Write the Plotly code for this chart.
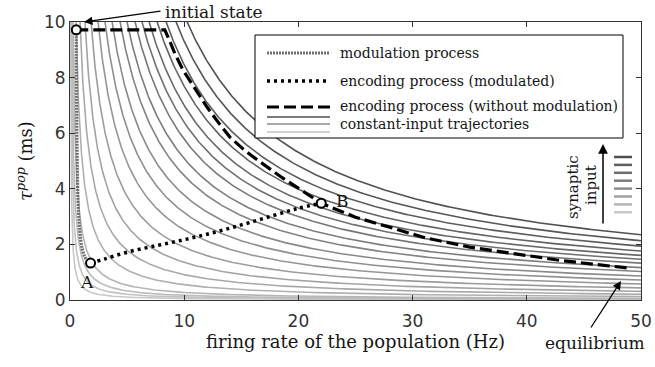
import numpy as np
import plotly.graph_objects as go

# ---- data ----
# firing rate (Hz) at which each constant-input trajectory meets tau = 10 ms (light -> dark)
top_crossing_rates = [0.05, 0.1, 0.16, 0.26, 0.53, 0.88, 1.31, 1.84, 2.45, 3.06, 3.68, 4.38,
                      4.99, 5.69, 6.30, 6.92, 7.62, 8.41, 9.28, 10.25]
# flattening of the trajectories at high rate (tau at 50 Hz of outermost curve ~2.35 ms)
flattening = 0.0038

mod_r   = [0.55, 0.55, 0.57, 0.60, 0.64, 0.70, 0.80, 0.94, 1.10, 1.30, 1.55, 1.80]
mod_tau = [9.72, 8.80, 7.60, 6.20, 4.80, 3.60, 2.80, 2.16, 1.80, 1.55, 1.40, 1.33]

encm_r   = [1.8, 3.0, 5.0, 7.5, 10.0, 12.5, 15.0, 17.5, 20.0, 22.0]
encm_tau = [1.33, 1.47, 1.72, 1.95, 2.17, 2.42, 2.70, 3.00, 3.30, 3.48]

enc_r   = [0.55, 8.3, 8.7, 9.2, 9.9, 11.0, 12.0, 13.0, 14.0, 15.2, 16.4, 18.4, 20.5, 22.0,
           25.0, 28.0, 31.0, 35.0, 40.0, 43.0, 46.0, 48.9]
enc_tau = [9.72, 9.72, 9.35, 8.85, 8.27, 7.55, 6.94, 6.38, 5.86, 5.42, 5.04, 4.45, 3.90, 3.48,
           2.98, 2.60, 2.25, 1.90, 1.60, 1.42, 1.28, 1.15]

state_r   = [0.55, 1.8, 22.0]
state_tau = [9.72, 1.33, 3.48]

x_ticks = [0, 10, 20, 30, 40, 50]
y_ticks = [0, 2, 4, 6, 8, 10]

SERIF = "DejaVu Serif"
SANS = "DejaVu Sans"
TXT = "#151515"

def gray(t):
    v = int(round(200 - t * (200 - 80)))
    return f"rgb({v},{v},{v})"

fig = go.Figure()

n = len(top_crossing_rates)
for i, r0 in enumerate(top_crossing_rates):
    r = np.geomspace(r0 * 0.98, 50, 300)
    a = 10.0 / (1.0 / r0 + flattening)
    tau = a * (1.0 / r + flattening)
    fig.add_trace(go.Scatter(x=r, y=tau, mode="lines",
                             line=dict(color=gray(i / (n - 1)), width=1.6),
                             hoverinfo="skip", showlegend=False))

fig.add_trace(go.Scatter(x=mod_r, y=mod_tau, mode="lines", line_shape="spline",
                         line=dict(color="#6e6e6e", width=3.2, dash="2px,1px"), showlegend=False))
fig.add_trace(go.Scatter(x=enc_r, y=enc_tau, mode="lines",
                         line=dict(color="black", width=3.2, dash="12px,5px"), showlegend=False))
fig.add_trace(go.Scatter(x=encm_r, y=encm_tau, mode="lines", line_shape="spline",
                         line=dict(color="black", width=3.5, dash="3px,4px"), showlegend=False))
fig.add_trace(go.Scatter(x=state_r, y=state_tau, mode="markers",
                         marker=dict(size=9, color="white", line=dict(color="black", width=2)),
                         showlegend=False))

# ---- pixel helpers ----
def px2x(px):
    return (px - 70) / 571 * 50

def py2y(py):
    return (300 - py) / 278 * 10

def px2p(px):
    return (px - 70) / 571

def py2p(py):
    return (300 - py) / 278

shapes = [dict(type="rect", xref="x", yref="y", x0=px2x(255), x1=px2x(623), y0=py2y(138), y1=py2y(35),
               line=dict(color="black", width=1), fillcolor="white", layer="above")]
lx0, lx1 = px2x(267), px2x(330)
rows = [(53, "#6e6e6e", "2px,1px", 3.2), (81, "black", "3px,4px", 3.5), (107, "black", "12px,5px", 3.2)]
for py, col, dash, w in rows:
    shapes.append(dict(type="line", xref="x", yref="y", x0=lx0, x1=lx1, y0=py2y(py), y1=py2y(py),
                       line=dict(color=col, width=w, dash=dash), layer="above"))
for py, col in [(117, "rgb(80,80,80)"), (124, "rgb(140,140,140)"), (132, "rgb(195,195,195)")]:
    shapes.append(dict(type="line", xref="x", yref="y", x0=lx0, x1=lx1, y0=py2y(py), y1=py2y(py),
                       line=dict(color=col, width=1.6), layer="above"))

# synaptic input inset dashes
inset_grays = [80, 95, 110, 125, 140, 160, 180, 200]
for k, v in enumerate(inset_grays):
    py = 157 + k * 7.9
    shapes.append(dict(type="line", xref="x", yref="y", x0=px2x(614), x1=px2x(632), y0=py2y(py), y1=py2y(py),
                       line=dict(color=f"rgb({v},{v},{v})", width=2.5), layer="above"))

legend_texts = [(53, "modulation process"), (81, "encoding process (modulated)"),
                (106, "encoding process (without modulation)"), (124, "constant-input trajectories")]
annotations = []
for py, txt in legend_texts:
    annotations.append(dict(x=px2x(338), y=py2y(py), xref="x", yref="y", text=txt, showarrow=False,
                            xanchor="left", yanchor="middle", font=dict(family=SERIF, size=14, color=TXT)))

# labels A, B
annotations.append(dict(x=px2x(87), y=py2y(282), xref="x", yref="y", text="A", showarrow=False,
                        xanchor="center", yanchor="middle", font=dict(family=SERIF, size=17, color=TXT)))
annotations.append(dict(x=px2x(342), y=py2y(201), xref="x", yref="y", text="B", showarrow=False,
                        xanchor="center", yanchor="middle", font=dict(family=SERIF, size=17, color=TXT)))
# initial state
annotations.append(dict(x=px2p(163), y=py2p(12), xref="paper", yref="paper", text="initial state",
                        showarrow=False, xanchor="left", yanchor="middle",
                        font=dict(family=SERIF, size=17, color=TXT)))
annotations.append(dict(x=px2x(84), y=py2y(22), xref="x", yref="y", ax=162 - 84, ay=11 - 22,
                        text="", showarrow=True, arrowhead=2, arrowsize=1.3,
                        arrowwidth=1.3, arrowcolor="black"))
# equilibrium
annotations.append(dict(x=px2p(595), y=py2p(343), xref="paper", yref="paper", text="equilibrium",
                        showarrow=False, xanchor="center", yanchor="middle",
                        font=dict(family=SERIF, size=17, color=TXT)))
annotations.append(dict(x=px2x(621), y=py2y(281), xref="x", yref="y", ax=590 - 621, ay=329 - 281,
                        text="", showarrow=True, arrowhead=2, arrowsize=1.3,
                        arrowwidth=1.3, arrowcolor="black"))
# synaptic input
annotations.append(dict(x=px2x(603), y=py2y(144), xref="x", yref="y", ax=0, ay=225 - 144,
                        text="", showarrow=True, arrowhead=2, arrowsize=1.3,
                        arrowwidth=1.5, arrowcolor="black"))
annotations.append(dict(x=px2x(573), y=py2y(187), xref="x", yref="y", text="synaptic", showarrow=False,
                        xanchor="center", yanchor="middle",
                        textangle=-90, font=dict(family=SERIF, size=15, color=TXT)))
annotations.append(dict(x=px2x(591), y=py2y(185), xref="x", yref="y", text="input", showarrow=False,
                        xanchor="center", yanchor="middle",
                        textangle=-90, font=dict(family=SERIF, size=15, color=TXT)))

fig.update_layout(
    width=655, height=367,
    margin=dict(l=70, r=14, t=22, b=67, autoexpand=False),
    paper_bgcolor="white", plot_bgcolor="white",
    shapes=shapes, annotations=annotations,
    xaxis=dict(range=[0, 50], tickvals=x_ticks, ticks="inside", ticklen=5, tickcolor="#333",
               showline=True, linecolor="#333", linewidth=1, mirror="ticks", showgrid=False, zeroline=False,
               automargin=False, ticklabelstandoff=6,
               tickfont=dict(family=SANS, size=17, color="#333"),
               title=dict(text="firing rate of the population (Hz)", standoff=4,
                          font=dict(family=SERIF, size=18, color=TXT))),
    yaxis=dict(range=[0, 10], tickvals=y_ticks, ticks="inside", ticklen=5, tickcolor="#333",
               showline=True, linecolor="#333", linewidth=1, mirror="ticks", showgrid=False, zeroline=False,
               automargin=False,
               tickfont=dict(family=SANS, size=17, color="#333"),
               title=dict(text="<i>τ</i><sup><i>pop</i></sup> (ms)", standoff=6,
                          font=dict(family=SERIF, size=18, color=TXT))),
)

fig.write_html("out.html")
